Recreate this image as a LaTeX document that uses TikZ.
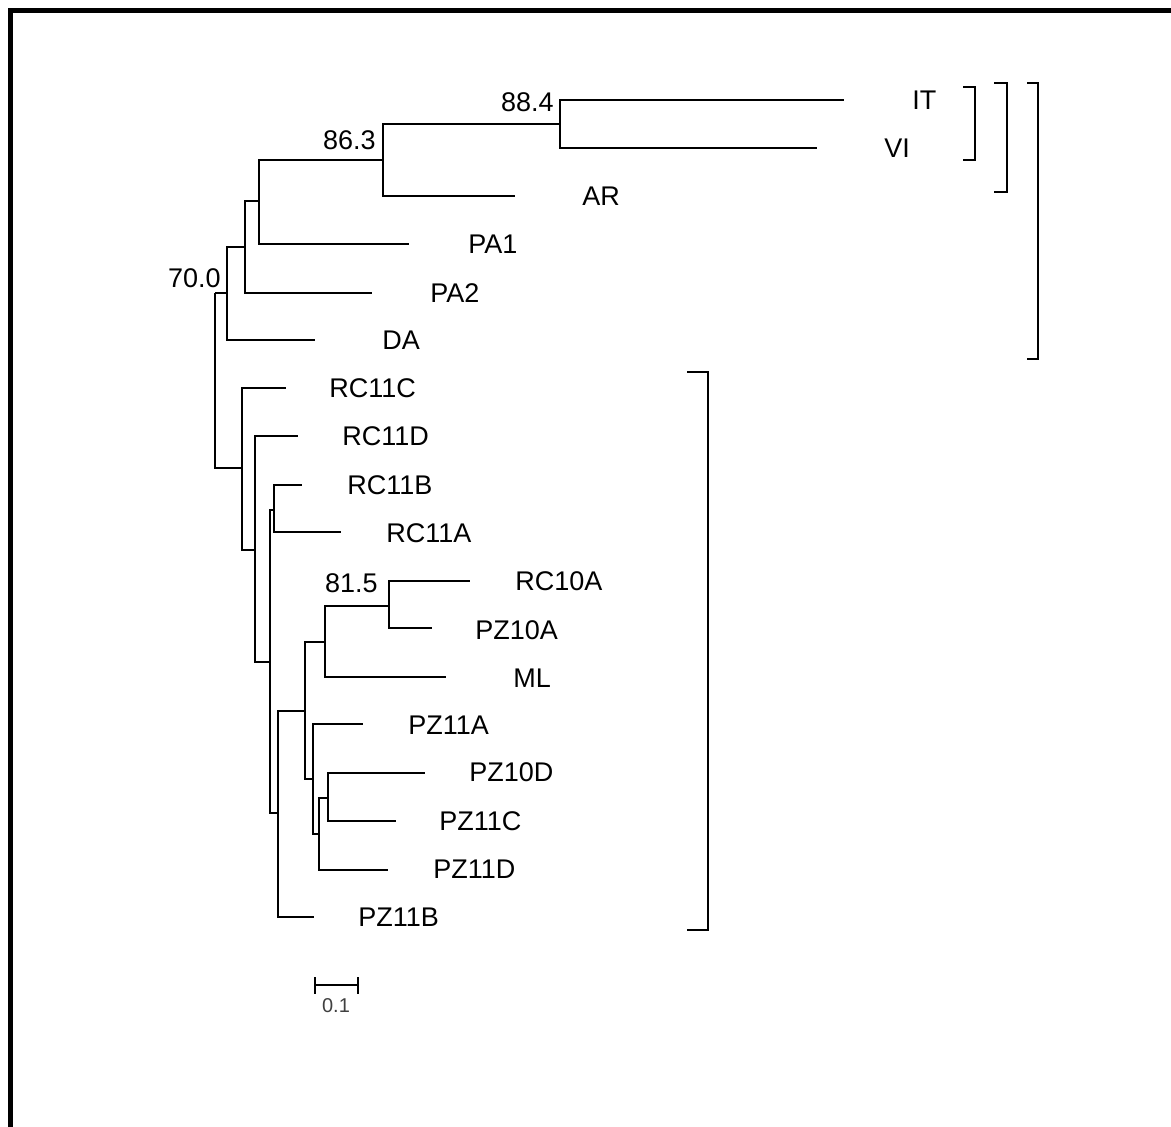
\documentclass[tikz,border=0pt]{standalone}
\usepackage{fontspec}
\setmainfont{Liberation Sans}
\usetikzlibrary{positioning}

\tikzset{
    branch/.style={line width=1.3pt},
    clade/.style={line width=1.3pt},
    taxon/.style={anchor=west, inner sep=0pt, font=\fontsize{13.5}{16}\selectfont},
    boot/.style={anchor=east, inner sep=0pt, font=\fontsize{13.5}{16}\selectfont},
    scalelabel/.style={inner sep=0pt, text=black!75, font=\fontsize{10}{12}\selectfont}
}

\begin{document}
\begin{tikzpicture}[x=0.5pt,y=-0.5pt]

\useasboundingbox (0,0) rectangle (1171,1127);

% Frame (left and top edge only)
\draw[line width=2.5pt] (10.5,1127) -- (10.5,10.5) -- (1171,10.5);

% Inner joints
\coordinate (root) at (215,293);
\coordinate (jA) at (227,293);
\coordinate (jB) at (245,247);
\coordinate (jC) at (259,201);
\coordinate (jD) at (383,160);
\coordinate (jE) at (560,124);
\coordinate (jR) at (242,468);
\coordinate (jS) at (255,550);
\coordinate (jT) at (270,662);
\coordinate (jU) at (274,510);
\coordinate (jV) at (278,813);
\coordinate (jW) at (305,711);
\coordinate (jX) at (325,642);
\coordinate (jZ) at (389,606);
\coordinate (jY) at (313,779);
\coordinate (jQ) at (319,834);
\coordinate (jP) at (328,798);

% Branch tips
\coordinate (tIT) at (844,100);
\coordinate (tVI) at (817,148);
\coordinate (tAR) at (515,196);
\coordinate (tPA1) at (409,244);
\coordinate (tPA2) at (372,293);
\coordinate (tDA) at (315,340);
\coordinate (tRC11C) at (286,388);
\coordinate (tRC11D) at (298,436);
\coordinate (tRC11B) at (302,485);
\coordinate (tRC11A) at (341,532);
\coordinate (tRC10A) at (470,581);
\coordinate (tPZ10A) at (432,628);
\coordinate (tML) at (446,677);
\coordinate (tPZ11A) at (363,724);
\coordinate (tPZ10D) at (425,773);
\coordinate (tPZ11C) at (396,821);
\coordinate (tPZ11D) at (388,870);
\coordinate (tPZ11B) at (314,917);

% Upper clade
\draw[branch] (root) |- (jA);
\draw[branch] (jA) |- (jB);
\draw[branch] (jA) |- (tDA);
\draw[branch] (jB) |- (jC);
\draw[branch] (jB) |- (tPA2);
\draw[branch] (jC) |- (jD);
\draw[branch] (jC) |- (tPA1);
\draw[branch] (jD) |- (jE);
\draw[branch] (jD) |- (tAR);
\draw[branch] (jE) |- (tIT);
\draw[branch] (jE) |- (tVI);

% Lower clade
\draw[branch] (root) |- (jR);
\draw[branch] (jR) |- (tRC11C);
\draw[branch] (jR) |- (jS);
\draw[branch] (jS) |- (tRC11D);
\draw[branch] (jS) |- (jT);
\draw[branch] (jT) |- (jU);
\draw[branch] (jT) |- (jV);
\draw[branch] (jU) |- (tRC11B);
\draw[branch] (jU) |- (tRC11A);
\draw[branch] (jV) |- (jW);
\draw[branch] (jV) |- (tPZ11B);
\draw[branch] (jW) |- (jX);
\draw[branch] (jW) |- (jY);
\draw[branch] (jX) |- (jZ);
\draw[branch] (jX) |- (tML);
\draw[branch] (jZ) |- (tRC10A);
\draw[branch] (jZ) |- (tPZ10A);
\draw[branch] (jY) |- (tPZ11A);
\draw[branch] (jY) |- (jQ);
\draw[branch] (jQ) |- (jP);
\draw[branch] (jQ) |- (tPZ11D);
\draw[branch] (jP) |- (tPZ10D);
\draw[branch] (jP) |- (tPZ11C);

% Taxon names
\node[taxon] (IT) at (912,100) {IT};
\node[taxon] (VI) at (884,148) {VI};
\node[taxon] (AR) at (582,196) {AR};
\node[taxon] (PA1) at (468,244) {PA1};
\node[taxon] (PA2) at (430,293) {PA2};
\node[taxon] (DA) at (382,340) {DA};
\node[taxon] (RC11C) at (329,388) {RC11C};
\node[taxon] (RC11D) at (342,436) {RC11D};
\node[taxon] (RC11B) at (347,485) {RC11B};
\node[taxon] (RC11A) at (386,533) {RC11A};
\node[taxon] (RC10A) at (515,581) {RC10A};
\node[taxon] (PZ10A) at (475,630) {PZ10A};
\node[taxon] (ML) at (513,678) {ML};
\node[taxon] (PZ11A) at (408,725) {PZ11A};
\node[taxon] (PZ10D) at (469,772) {PZ10D};
\node[taxon] (PZ11C) at (439,821) {PZ11C};
\node[taxon] (PZ11D) at (433,869) {PZ11D};
\node[taxon] (PZ11B) at (358,917) {PZ11B};

% Bootstrap values
\node[boot] (b884) at (554,102) {88.4};
\node[boot] (b863) at (376,140) {86.3};
\node[boot] (b700) at (221,278) {70.0};
\node[boot] (b815) at (378,583) {81.5};

% Scale bar
\coordinate (sL) at (315,985);
\coordinate (sR) at (358,985);
\draw[branch] (sL) -- (sR);
\draw[branch] ([yshift=4pt]sL) -- ([yshift=-4.5pt]sL);
\draw[branch] ([yshift=4pt]sR) -- ([yshift=-4.5pt]sR);
\node[scalelabel] (scale) at (336,1006) {0.1};

% Clade brackets
\draw[clade] (963,87) -- (975,87) -- (975,160) -- (963,160);
\draw[clade] (994,83) -- (1007,83) -- (1007,192) -- (994,192);
\draw[clade] (1027,83) -- (1038,83) -- (1038,359) -- (1027,359);
\draw[clade] (687,372) -- (708,372) -- (708,930) -- (687,930);

\end{tikzpicture}
\end{document}
